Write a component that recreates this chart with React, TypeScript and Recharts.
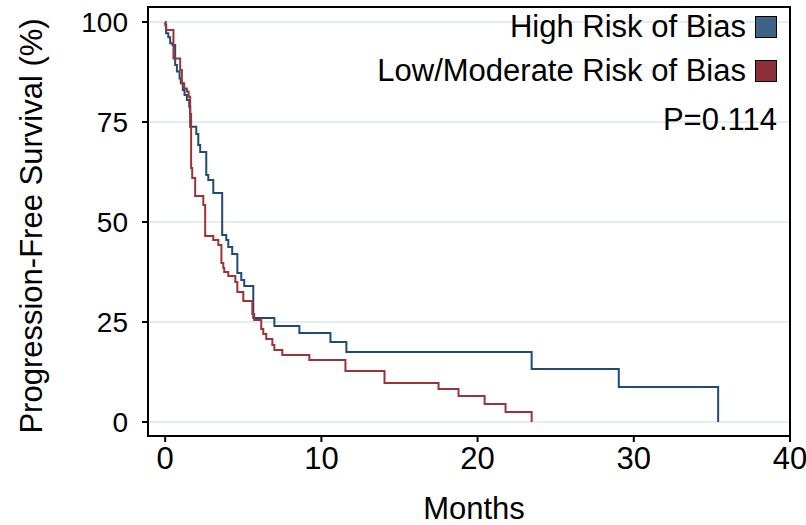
import { LineChart, Line, XAxis, YAxis, CartesianGrid, ReferenceArea, Legend } from 'recharts';

const FONT = '"Liberation Sans", Arial, Helvetica, sans-serif';
const BLUE = '#1f4b74';
const RED = '#9d3239';
const BOX_COLORS = ['#3e6384', '#8c2f36'];

// Kaplan-Meier steps (months, % progression-free)
const highRiskMonths = [0, 0.02, 0.06, 0.2, 0.32, 0.47, 0.64, 0.75, 0.92, 1.0, 1.13, 1.24, 1.39, 1.54, 1.6, 1.99, 2.12, 2.24, 2.63, 2.76, 3.08, 3.65, 3.91, 4.04, 4.29, 4.62, 4.87, 5.06, 5.64, 6.99, 8.59, 10.58, 11.6, 23.46, 29.04, 35.4];
const highRiskSurvival = [100, 99.25, 97.2, 96.2, 94.7, 94.25, 89.25, 87.6, 85.9, 84.7, 83, 81.75, 80.5, 78.8, 73.8, 72, 69.25, 67.5, 61.75, 60.5, 57.25, 46.75, 45.5, 43.75, 42, 37.25, 35.5, 34, 26, 24, 22.25, 20, 17.5, 13.25, 8.75, 0];

const lowRiskMonths = [0, 0.02, 0.06, 0.53, 0.96, 1.07, 1.22, 1.39, 1.5, 1.6, 1.66, 1.73, 1.92, 2.44, 2.56, 3.08, 3.4, 3.6, 3.72, 3.78, 4.04, 4.49, 4.62, 5.0, 5.58, 5.7, 6.15, 6.28, 6.47, 6.86, 6.99, 7.5, 9.23, 11.54, 14.04, 17.5, 18.78, 20.45, 21.79, 23.46];
const lowRiskSurvival = [100, 99.4, 98, 90.9, 88, 84.7, 83.4, 82.6, 81.3, 77, 63.5, 61, 56.5, 54.25, 46.5, 45.5, 44.25, 39.75, 38.5, 37.5, 36.5, 35, 32.5, 30.25, 27, 25.5, 23.25, 22, 20.75, 19.25, 18, 16.75, 15.5, 12.75, 9.75, 8.25, 6.5, 4.5, 2.5, 0];

const seriesNames = ['High Risk of Bias', 'Low/Moderate Risk of Bias'];
const pValueText = 'P=0.114';
const xTicks = [0, 10, 20, 30, 40];
const yTicks = [0, 25, 50, 75, 100];
const xDomain: [number, number] = [-1.1, 40];
const yDomain: [number, number] = [-3.5, 103.75];

const toPoints = (months: number[], surv: number[]) => months.map((t, i) => ({ t, s: surv[i] }));

const highData = toPoints(highRiskMonths, highRiskSurvival);
const lowData = toPoints(lowRiskMonths, lowRiskSurvival);

function KmLegend() {
  return (
    <div style={{ fontFamily: FONT, fontSize: 31, color: '#000', lineHeight: '44px' }}>
      {seriesNames.map((name, i) => (
        <div key={name} style={{ display: 'flex', alignItems: 'center', justifyContent: 'flex-end' }}>
          <span>{name}</span>
          <span
            style={{
              display: 'inline-block',
              width: 20,
              height: 20,
              marginLeft: 9,
              background: BOX_COLORS[i],
              border: '1.5px solid #000',
            }}
          />
        </div>
      ))}
      <div style={{ textAlign: 'right', marginTop: 5 }}>{pValueText}</div>
    </div>
  );
}

export default function App() {
  return (
    <div style={{ position: 'absolute', left: 0, top: 0, width: 806, height: 525, background: '#fff' }}>
      <LineChart width={806} height={525} margin={{ top: 7, right: 16, bottom: 0, left: 0 }}>
        <CartesianGrid vertical={false} stroke="#e6edf1" strokeWidth={2} />
        <XAxis
          type="number"
          dataKey="t"
          domain={xDomain}
          ticks={xTicks}
          height={89}
          tick={{ fontSize: 31, fill: '#000', fontFamily: FONT }}
          tickSize={6}
          tickMargin={5}
          tickLine={{ stroke: '#000', strokeWidth: 2 }}
          axisLine={{ stroke: '#000', strokeWidth: 2 }}
          label={{
            content: () => (
              <text x={474} y={519} textAnchor="middle" fontSize={31} fontFamily={FONT} fill="#000">
                Months
              </text>
            ),
          }}
        />
        <YAxis
          type="number"
          dataKey="s"
          domain={yDomain}
          ticks={yTicks}
          width={148}
          tick={{ fontSize: 28, fill: '#000', fontFamily: FONT }}
          tickSize={6}
          tickMargin={14}
          tickLine={{ stroke: '#000', strokeWidth: 2 }}
          axisLine={{ stroke: '#000', strokeWidth: 2 }}
          label={{
            content: () => (
              <text
                x={31}
                y={226}
                transform="rotate(-90 31 226)"
                textAnchor="middle"
                dominantBaseline="central"
                fontSize={31}
                fontFamily={FONT}
                fill="#000"
              >
                Progression-Free Survival (%)
              </text>
            ),
          }}
        />
        <ReferenceArea
          x1={xDomain[0]}
          x2={xDomain[1]}
          y1={yDomain[0]}
          y2={yDomain[1]}
          fill="none"
          stroke="#000"
          strokeWidth={2}
        />
        <Line
          data={highData}
          dataKey="s"
          name={seriesNames[0]}
          type="stepAfter"
          stroke={BLUE}
          strokeWidth={2}
          dot={false}
          isAnimationActive={false}
        />
        <Line
          data={lowData}
          dataKey="s"
          name={seriesNames[1]}
          type="stepAfter"
          stroke={RED}
          strokeWidth={2}
          dot={false}
          isAnimationActive={false}
        />
        <Legend
          layout="vertical"
          align="center"
          verticalAlign="middle"
          content={() => <KmLegend />}
          wrapperStyle={{ top: 5, right: 29, left: 'auto', width: 'auto', bottom: 'auto' }}
        />
      </LineChart>
    </div>
  );
}
